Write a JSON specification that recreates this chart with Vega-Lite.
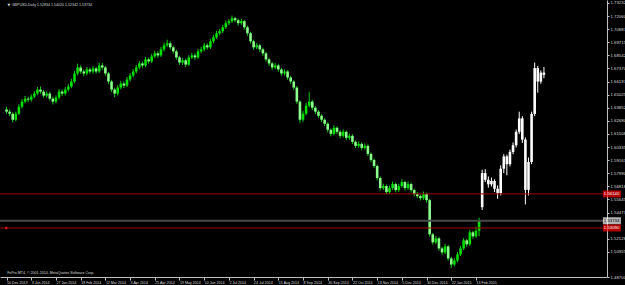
{
 "$schema": "https://vega.github.io/schema/vega-lite/v6.json",
 "width": 607,
 "height": 277,
 "autosize": {"type": "none"},
 "padding": {"left": 0, "top": 0, "right": 18, "bottom": 8},
 "background": "#000000",
 "config": {"view": {"stroke": null}, "axis": {"grid": false, "labelOverlap": false, "labelBound": false, "labelFlush": false}},
 "datasets": {
  "candles": [
   {"i":0,"o":1.6370,"h":1.6392,"l":1.6330,"c":1.6350,"s":"g"},
   {"i":1,"o":1.6350,"h":1.6368,"l":1.6310,"c":1.6332,"s":"g"},
   {"i":2,"o":1.6332,"h":1.6345,"l":1.6255,"c":1.6278,"s":"g"},
   {"i":3,"o":1.6278,"h":1.6350,"l":1.6265,"c":1.6332,"s":"g"},
   {"i":4,"o":1.6332,"h":1.6418,"l":1.6320,"c":1.6395,"s":"g"},
   {"i":5,"o":1.6395,"h":1.6462,"l":1.6380,"c":1.6440,"s":"g"},
   {"i":6,"o":1.6440,"h":1.6490,"l":1.6425,"c":1.6467,"s":"g"},
   {"i":7,"o":1.6467,"h":1.6485,"l":1.6436,"c":1.6458,"s":"g"},
   {"i":8,"o":1.6458,"h":1.6505,"l":1.6440,"c":1.6485,"s":"g"},
   {"i":9,"o":1.6485,"h":1.6535,"l":1.6470,"c":1.6512,"s":"g"},
   {"i":10,"o":1.6512,"h":1.6570,"l":1.6498,"c":1.6548,"s":"g"},
   {"i":11,"o":1.6548,"h":1.6575,"l":1.6510,"c":1.6530,"s":"g"},
   {"i":12,"o":1.6530,"h":1.6545,"l":1.6475,"c":1.6494,"s":"g"},
   {"i":13,"o":1.6494,"h":1.6530,"l":1.6478,"c":1.6512,"s":"g"},
   {"i":14,"o":1.6512,"h":1.6528,"l":1.6450,"c":1.6467,"s":"g"},
   {"i":15,"o":1.6467,"h":1.6485,"l":1.6415,"c":1.6440,"s":"g"},
   {"i":16,"o":1.6440,"h":1.6495,"l":1.6425,"c":1.6476,"s":"g"},
   {"i":17,"o":1.6476,"h":1.6552,"l":1.6460,"c":1.6530,"s":"g"},
   {"i":18,"o":1.6530,"h":1.6548,"l":1.6490,"c":1.6512,"s":"g"},
   {"i":19,"o":1.6512,"h":1.6570,"l":1.6495,"c":1.6548,"s":"g"},
   {"i":20,"o":1.6548,"h":1.6598,"l":1.6530,"c":1.6575,"s":"g"},
   {"i":21,"o":1.6575,"h":1.6645,"l":1.6560,"c":1.6620,"s":"g"},
   {"i":22,"o":1.6620,"h":1.6715,"l":1.6605,"c":1.6692,"s":"g"},
   {"i":23,"o":1.6692,"h":1.6780,"l":1.6675,"c":1.6746,"s":"g"},
   {"i":24,"o":1.6746,"h":1.6765,"l":1.6690,"c":1.6710,"s":"g"},
   {"i":25,"o":1.6710,"h":1.6728,"l":1.6668,"c":1.6692,"s":"g"},
   {"i":26,"o":1.6692,"h":1.6750,"l":1.6675,"c":1.6728,"s":"g"},
   {"i":27,"o":1.6728,"h":1.6745,"l":1.6690,"c":1.6710,"s":"g"},
   {"i":28,"o":1.6710,"h":1.6758,"l":1.6692,"c":1.6737,"s":"g"},
   {"i":29,"o":1.6737,"h":1.6752,"l":1.6690,"c":1.6710,"s":"g"},
   {"i":30,"o":1.6710,"h":1.6790,"l":1.6695,"c":1.6764,"s":"g"},
   {"i":31,"o":1.6764,"h":1.6785,"l":1.6725,"c":1.6746,"s":"g"},
   {"i":32,"o":1.6746,"h":1.6760,"l":1.6672,"c":1.6692,"s":"g"},
   {"i":33,"o":1.6692,"h":1.6705,"l":1.6598,"c":1.6620,"s":"g"},
   {"i":34,"o":1.6620,"h":1.6635,"l":1.6525,"c":1.6548,"s":"g"},
   {"i":35,"o":1.6548,"h":1.6565,"l":1.6480,"c":1.6512,"s":"g"},
   {"i":36,"o":1.6512,"h":1.6588,"l":1.6495,"c":1.6566,"s":"g"},
   {"i":37,"o":1.6566,"h":1.6625,"l":1.6550,"c":1.6602,"s":"g"},
   {"i":38,"o":1.6602,"h":1.6620,"l":1.6562,"c":1.6584,"s":"g"},
   {"i":39,"o":1.6584,"h":1.6660,"l":1.6570,"c":1.6638,"s":"g"},
   {"i":40,"o":1.6638,"h":1.6695,"l":1.6620,"c":1.6674,"s":"g"},
   {"i":41,"o":1.6674,"h":1.6732,"l":1.6658,"c":1.6710,"s":"g"},
   {"i":42,"o":1.6710,"h":1.6768,"l":1.6692,"c":1.6746,"s":"g"},
   {"i":43,"o":1.6746,"h":1.6805,"l":1.6730,"c":1.6782,"s":"g"},
   {"i":44,"o":1.6782,"h":1.6800,"l":1.6742,"c":1.6764,"s":"g"},
   {"i":45,"o":1.6764,"h":1.6840,"l":1.6748,"c":1.6818,"s":"g"},
   {"i":46,"o":1.6818,"h":1.6835,"l":1.6780,"c":1.6800,"s":"g"},
   {"i":47,"o":1.6800,"h":1.6868,"l":1.6785,"c":1.6845,"s":"g"},
   {"i":48,"o":1.6845,"h":1.6895,"l":1.6830,"c":1.6872,"s":"g"},
   {"i":49,"o":1.6872,"h":1.6890,"l":1.6832,"c":1.6854,"s":"g"},
   {"i":50,"o":1.6854,"h":1.6930,"l":1.6840,"c":1.6908,"s":"g"},
   {"i":51,"o":1.6908,"h":1.6968,"l":1.6890,"c":1.6944,"s":"g"},
   {"i":52,"o":1.6944,"h":1.6995,"l":1.6928,"c":1.6962,"s":"g"},
   {"i":53,"o":1.6962,"h":1.6980,"l":1.6905,"c":1.6926,"s":"g"},
   {"i":54,"o":1.6926,"h":1.6940,"l":1.6870,"c":1.6890,"s":"g"},
   {"i":55,"o":1.6890,"h":1.6905,"l":1.6815,"c":1.6836,"s":"g"},
   {"i":56,"o":1.6836,"h":1.6850,"l":1.6770,"c":1.6790,"s":"g"},
   {"i":57,"o":1.6790,"h":1.6830,"l":1.6770,"c":1.6810,"s":"g"},
   {"i":58,"o":1.6810,"h":1.6825,"l":1.6750,"c":1.6772,"s":"g"},
   {"i":59,"o":1.6772,"h":1.6855,"l":1.6760,"c":1.6836,"s":"g"},
   {"i":60,"o":1.6836,"h":1.6876,"l":1.6820,"c":1.6854,"s":"g"},
   {"i":61,"o":1.6854,"h":1.6872,"l":1.6815,"c":1.6836,"s":"g"},
   {"i":62,"o":1.6836,"h":1.6912,"l":1.6822,"c":1.6890,"s":"g"},
   {"i":63,"o":1.6890,"h":1.6930,"l":1.6872,"c":1.6908,"s":"g"},
   {"i":64,"o":1.6908,"h":1.6965,"l":1.6890,"c":1.6944,"s":"g"},
   {"i":65,"o":1.6944,"h":1.6962,"l":1.6905,"c":1.6926,"s":"g"},
   {"i":66,"o":1.6926,"h":1.7002,"l":1.6912,"c":1.6980,"s":"g"},
   {"i":67,"o":1.6980,"h":1.7038,"l":1.6962,"c":1.7016,"s":"g"},
   {"i":68,"o":1.7016,"h":1.7075,"l":1.7000,"c":1.7052,"s":"g"},
   {"i":69,"o":1.7052,"h":1.7092,"l":1.7035,"c":1.7070,"s":"g"},
   {"i":70,"o":1.7070,"h":1.7128,"l":1.7055,"c":1.7106,"s":"g"},
   {"i":71,"o":1.7106,"h":1.7165,"l":1.7090,"c":1.7142,"s":"g"},
   {"i":72,"o":1.7142,"h":1.7180,"l":1.7125,"c":1.7160,"s":"g"},
   {"i":73,"o":1.7160,"h":1.7210,"l":1.7145,"c":1.7187,"s":"g"},
   {"i":74,"o":1.7187,"h":1.7200,"l":1.7150,"c":1.7169,"s":"g"},
   {"i":75,"o":1.7169,"h":1.7185,"l":1.7120,"c":1.7142,"s":"g"},
   {"i":76,"o":1.7142,"h":1.7182,"l":1.7128,"c":1.7160,"s":"g"},
   {"i":77,"o":1.7160,"h":1.7172,"l":1.7085,"c":1.7106,"s":"g"},
   {"i":78,"o":1.7106,"h":1.7120,"l":1.7030,"c":1.7052,"s":"g"},
   {"i":79,"o":1.7052,"h":1.7065,"l":1.6960,"c":1.6980,"s":"g"},
   {"i":80,"o":1.6980,"h":1.6995,"l":1.6905,"c":1.6926,"s":"g"},
   {"i":81,"o":1.6926,"h":1.6965,"l":1.6910,"c":1.6944,"s":"g"},
   {"i":82,"o":1.6944,"h":1.6958,"l":1.6885,"c":1.6908,"s":"g"},
   {"i":83,"o":1.6908,"h":1.6922,"l":1.6850,"c":1.6872,"s":"g"},
   {"i":84,"o":1.6872,"h":1.6885,"l":1.6798,"c":1.6818,"s":"g"},
   {"i":85,"o":1.6818,"h":1.6832,"l":1.6760,"c":1.6782,"s":"g"},
   {"i":86,"o":1.6782,"h":1.6796,"l":1.6725,"c":1.6746,"s":"g"},
   {"i":87,"o":1.6746,"h":1.6785,"l":1.6730,"c":1.6764,"s":"g"},
   {"i":88,"o":1.6764,"h":1.6778,"l":1.6708,"c":1.6728,"s":"g"},
   {"i":89,"o":1.6728,"h":1.6742,"l":1.6672,"c":1.6692,"s":"g"},
   {"i":90,"o":1.6692,"h":1.6730,"l":1.6675,"c":1.6710,"s":"g"},
   {"i":91,"o":1.6710,"h":1.6722,"l":1.6635,"c":1.6656,"s":"g"},
   {"i":92,"o":1.6656,"h":1.6670,"l":1.6600,"c":1.6620,"s":"g"},
   {"i":93,"o":1.6620,"h":1.6632,"l":1.6545,"c":1.6566,"s":"g"},
   {"i":94,"o":1.6566,"h":1.6580,"l":1.6420,"c":1.6440,"s":"g"},
   {"i":95,"o":1.6440,"h":1.6452,"l":1.6250,"c":1.6278,"s":"g"},
   {"i":96,"o":1.6278,"h":1.6355,"l":1.6260,"c":1.6332,"s":"g"},
   {"i":97,"o":1.6332,"h":1.6430,"l":1.6318,"c":1.6404,"s":"g"},
   {"i":98,"o":1.6404,"h":1.6525,"l":1.6390,"c":1.6440,"s":"g"},
   {"i":99,"o":1.6440,"h":1.6455,"l":1.6365,"c":1.6386,"s":"g"},
   {"i":100,"o":1.6386,"h":1.6400,"l":1.6330,"c":1.6350,"s":"g"},
   {"i":101,"o":1.6350,"h":1.6365,"l":1.6295,"c":1.6314,"s":"g"},
   {"i":102,"o":1.6314,"h":1.6328,"l":1.6258,"c":1.6278,"s":"g"},
   {"i":103,"o":1.6278,"h":1.6292,"l":1.6222,"c":1.6242,"s":"g"},
   {"i":104,"o":1.6242,"h":1.6255,"l":1.6165,"c":1.6188,"s":"g"},
   {"i":105,"o":1.6188,"h":1.6200,"l":1.6130,"c":1.6152,"s":"g"},
   {"i":106,"o":1.6152,"h":1.6228,"l":1.6138,"c":1.6206,"s":"g"},
   {"i":107,"o":1.6206,"h":1.6220,"l":1.6150,"c":1.6170,"s":"g"},
   {"i":108,"o":1.6170,"h":1.6185,"l":1.6112,"c":1.6134,"s":"g"},
   {"i":109,"o":1.6134,"h":1.6192,"l":1.6118,"c":1.6170,"s":"g"},
   {"i":110,"o":1.6170,"h":1.6182,"l":1.6095,"c":1.6116,"s":"g"},
   {"i":111,"o":1.6116,"h":1.6155,"l":1.6098,"c":1.6134,"s":"g"},
   {"i":112,"o":1.6134,"h":1.6148,"l":1.6060,"c":1.6080,"s":"g"},
   {"i":113,"o":1.6080,"h":1.6095,"l":1.6025,"c":1.6044,"s":"g"},
   {"i":114,"o":1.6044,"h":1.6085,"l":1.6028,"c":1.6062,"s":"g"},
   {"i":115,"o":1.6062,"h":1.6075,"l":1.6005,"c":1.6026,"s":"g"},
   {"i":116,"o":1.6026,"h":1.6065,"l":1.6010,"c":1.6044,"s":"g"},
   {"i":117,"o":1.6044,"h":1.6058,"l":1.5952,"c":1.5972,"s":"g"},
   {"i":118,"o":1.5972,"h":1.5985,"l":1.5898,"c":1.5918,"s":"g"},
   {"i":119,"o":1.5918,"h":1.5932,"l":1.5845,"c":1.5864,"s":"g"},
   {"i":120,"o":1.5864,"h":1.5878,"l":1.5735,"c":1.5756,"s":"g"},
   {"i":121,"o":1.5756,"h":1.5770,"l":1.5645,"c":1.5666,"s":"g"},
   {"i":122,"o":1.5666,"h":1.5705,"l":1.5650,"c":1.5684,"s":"g"},
   {"i":123,"o":1.5684,"h":1.5698,"l":1.5610,"c":1.5630,"s":"g"},
   {"i":124,"o":1.5630,"h":1.5688,"l":1.5615,"c":1.5666,"s":"g"},
   {"i":125,"o":1.5666,"h":1.5725,"l":1.5650,"c":1.5702,"s":"g"},
   {"i":126,"o":1.5702,"h":1.5715,"l":1.5628,"c":1.5648,"s":"g"},
   {"i":127,"o":1.5648,"h":1.5705,"l":1.5632,"c":1.5684,"s":"g"},
   {"i":128,"o":1.5684,"h":1.5745,"l":1.5670,"c":1.5720,"s":"g"},
   {"i":129,"o":1.5720,"h":1.5732,"l":1.5645,"c":1.5666,"s":"g"},
   {"i":130,"o":1.5666,"h":1.5725,"l":1.5650,"c":1.5702,"s":"g"},
   {"i":131,"o":1.5702,"h":1.5715,"l":1.5628,"c":1.5648,"s":"g"},
   {"i":132,"o":1.5648,"h":1.5662,"l":1.5592,"c":1.5612,"s":"g"},
   {"i":133,"o":1.5612,"h":1.5630,"l":1.5575,"c":1.5594,"s":"g"},
   {"i":134,"o":1.5594,"h":1.5610,"l":1.5555,"c":1.5576,"s":"g"},
   {"i":135,"o":1.5576,"h":1.5635,"l":1.5560,"c":1.5612,"s":"g"},
   {"i":136,"o":1.5612,"h":1.5625,"l":1.5535,"c":1.5558,"s":"g"},
   {"i":137,"o":1.5558,"h":1.5570,"l":1.5232,"c":1.5252,"s":"g"},
   {"i":138,"o":1.5252,"h":1.5265,"l":1.5160,"c":1.5180,"s":"g"},
   {"i":139,"o":1.5180,"h":1.5238,"l":1.5165,"c":1.5216,"s":"g"},
   {"i":140,"o":1.5216,"h":1.5230,"l":1.5105,"c":1.5126,"s":"g"},
   {"i":141,"o":1.5126,"h":1.5140,"l":1.5068,"c":1.5090,"s":"g"},
   {"i":142,"o":1.5090,"h":1.5165,"l":1.5075,"c":1.5144,"s":"g"},
   {"i":143,"o":1.5144,"h":1.5158,"l":1.5015,"c":1.5036,"s":"g"},
   {"i":144,"o":1.5036,"h":1.5050,"l":1.4952,"c":1.4982,"s":"g"},
   {"i":145,"o":1.4982,"h":1.5040,"l":1.4965,"c":1.5018,"s":"g"},
   {"i":146,"o":1.5018,"h":1.5095,"l":1.5002,"c":1.5072,"s":"g"},
   {"i":147,"o":1.5072,"h":1.5148,"l":1.5058,"c":1.5126,"s":"g"},
   {"i":148,"o":1.5126,"h":1.5220,"l":1.5110,"c":1.5198,"s":"g"},
   {"i":149,"o":1.5198,"h":1.5212,"l":1.5140,"c":1.5162,"s":"g"},
   {"i":150,"o":1.5162,"h":1.5292,"l":1.5148,"c":1.5270,"s":"g"},
   {"i":151,"o":1.5270,"h":1.5284,"l":1.5212,"c":1.5234,"s":"g"},
   {"i":152,"o":1.5234,"h":1.5320,"l":1.5220,"c":1.5283,"s":"g"},
   {"i":153,"o":1.52834,"h":1.54020,"l":1.52342,"c":1.53734,"s":"g"},
   {"i":154,"o":1.5495,"h":1.5830,"l":1.5470,"c":1.5800,"s":"w"},
   {"i":155,"o":1.5800,"h":1.5835,"l":1.5720,"c":1.5740,"s":"w"},
   {"i":156,"o":1.5740,"h":1.5770,"l":1.5670,"c":1.5700,"s":"w"},
   {"i":157,"o":1.5700,"h":1.5760,"l":1.5680,"c":1.5730,"s":"w"},
   {"i":158,"o":1.5730,"h":1.5745,"l":1.5630,"c":1.5660,"s":"w"},
   {"i":159,"o":1.5660,"h":1.5690,"l":1.5570,"c":1.5620,"s":"w"},
   {"i":160,"o":1.5620,"h":1.5870,"l":1.5600,"c":1.5840,"s":"w"},
   {"i":161,"o":1.5840,"h":1.5970,"l":1.5800,"c":1.5950,"s":"w"},
   {"i":162,"o":1.5950,"h":1.5965,"l":1.5780,"c":1.5880,"s":"w"},
   {"i":163,"o":1.5880,"h":1.6010,"l":1.5860,"c":1.5990,"s":"w"},
   {"i":164,"o":1.5990,"h":1.6075,"l":1.5970,"c":1.6050,"s":"w"},
   {"i":165,"o":1.6050,"h":1.6190,"l":1.6030,"c":1.6170,"s":"w"},
   {"i":166,"o":1.6170,"h":1.6350,"l":1.6150,"c":1.6290,"s":"w"},
   {"i":167,"o":1.6290,"h":1.6310,"l":1.6070,"c":1.6100,"s":"w"},
   {"i":168,"o":1.6100,"h":1.6120,"l":1.5520,"c":1.5650,"s":"w"},
   {"i":169,"o":1.5650,"h":1.5940,"l":1.5600,"c":1.5900,"s":"w"},
   {"i":170,"o":1.5900,"h":1.6350,"l":1.5880,"c":1.6330,"s":"w"},
   {"i":171,"o":1.6330,"h":1.6790,"l":1.6310,"c":1.6740,"s":"w"},
   {"i":172,"o":1.6740,"h":1.6760,"l":1.6520,"c":1.6620,"s":"w"},
   {"i":173,"o":1.6620,"h":1.6720,"l":1.6600,"c":1.6700,"s":"w"},
   {"i":174,"o":1.6700,"h":1.6750,"l":1.6650,"c":1.6680,"s":"w"}
  ],
  "levels": [
   {"p":1.5614,"t":"1.56140","k":"line"},
   {"p":1.53734,"t":"1.53734","k":"bid"},
   {"p":1.5309,"t":"1.53090","k":"line"}
  ]
 },
 "layer": [
  {
   "data": {"name": "candles"},
   "mark": {"type": "rule", "strokeWidth": 1},
   "encoding": {
    "x": {"field": "i", "type": "quantitative",
     "scale": {"domain": [-0.5, 192.8], "nice": false, "zero": false},
     "axis": {"title": null, "orient": "bottom", "tickCount": 100,
      "values": [0,8,16,24,32,40,48,56,64,72,80,88,96,104,112,120,128,136,144,152],
      "labelExpr": "['10 Dec 2013','3 Jan 2014','27 Jan 2014','18 Feb 2014','12 Mar 2014','3 Apr 2014','25 Apr 2014','19 May 2014','10 Jun 2014','2 Jul 2014','24 Jul 2014','15 Aug 2014','8 Sep 2014','30 Sep 2014','22 Oct 2014','13 Nov 2014','5 Dec 2014','30 Dec 2014','22 Jan 2015','13 Feb 2015'][round(datum.value/8)]",
      "labelAlign": "left", "labelBaseline": "top", "labelPadding": 0, "labelOverlap": false, "labelBound": false, "labelFlush": false,
      "labelFont": "Liberation Sans", "labelFontSize": 3.6, "labelColor": "#d8d8d8",
      "tickSize": 3, "tickColor": "#c0c0c0", "domainColor": "#c0c0c0", "domainWidth": 1}},
    "y": {"field": "l", "type": "quantitative",
     "scale": {"domain": [1.487, 1.735], "nice": false, "zero": false},
     "axis": {"title": null, "orient": "right", "tickCount": 100,
      "values": [1.73232,1.7206,1.70887,1.69715,1.68542,1.6737,1.66197,1.65025,1.63852,1.6268,1.61508,1.60335,1.59163,1.5799,1.56818,1.55645,1.54473,1.52128,1.50955,1.487],
      "format": ".5f", "labelPadding": 1, "labelOverlap": false, "labelBound": false, "labelFlush": false,
      "labelFont": "Liberation Sans", "labelFontSize": 4.3, "labelColor": "#d8d8d8",
      "tickSize": 2, "tickColor": "#c0c0c0", "domainColor": "#c0c0c0", "domainWidth": 1}},
    "y2": {"field": "h"},
    "color": {"condition": {"test": "datum.s=='w'", "value": "#ffffff"}, "value": "#10d010"}
   }
  },
  {
   "data": {"name": "candles"},
   "mark": {"type": "bar", "size": 2.6},
   "encoding": {
    "x": {"field": "i", "type": "quantitative"},
    "y": {"field": "o", "type": "quantitative"},
    "y2": {"field": "c"},
    "color": {"condition": [{"test": "datum.s=='w'", "value": "#ffffff"}, {"test": "datum.c<datum.o", "value": "#8cff8c"}], "value": "#00e000"}
   }
  },
  {
   "data": {"name": "levels"},
   "mark": {"type": "rule"},
   "encoding": {
    "y": {"field": "p", "type": "quantitative"},
    "color": {"condition": {"test": "datum.k=='bid'", "value": "#4a4a4a"}, "value": "#a00000"},
    "strokeWidth": {"condition": {"test": "datum.k=='bid'", "value": 2}, "value": 1}
   }
  },
  {
   "data": {"name": "levels"},
   "mark": {"type": "tick", "orient": "horizontal", "size": 18, "thickness": 7},
   "encoding": {
    "x": {"datum": 196},
    "y": {"field": "p", "type": "quantitative"},
    "color": {"condition": {"test": "datum.k=='bid'", "value": "#ffffff"}, "value": "#ff0000"}
   }
  },
  {
   "data": {"name": "levels"},
   "mark": {"type": "text", "align": "left", "baseline": "middle", "font": "Liberation Sans", "fontSize": 4.3},
   "encoding": {
    "x": {"datum": 193.4},
    "y": {"field": "p", "type": "quantitative"},
    "text": {"field": "t"},
    "color": {"condition": {"test": "datum.k=='bid'", "value": "#000000"}, "value": "#ffffff"}
   }
  },
  {
   "data": {"values": [{}]},
   "mark": {"type": "point", "shape": "square", "filled": true, "size": 6, "color": "#ff2020"},
   "encoding": {"x": {"datum": -0.1}, "y": {"datum": 1.5309}}
  },
  {
   "data": {"values": [{}]},
   "mark": {"type": "text", "align": "left", "baseline": "middle", "font": "DejaVu Sans", "fontSize": 3.5, "color": "#d8d8d8"},
   "encoding": {"x": {"datum": 0.3}, "y": {"datum": 1.7305}, "text": {"value": "▼"}}
  },
  {
   "data": {"values": [{}]},
   "mark": {"type": "text", "align": "left", "baseline": "middle", "font": "Liberation Sans", "fontSize": 3.6, "color": "#d8d8d8"},
   "encoding": {"x": {"datum": 1.7}, "y": {"datum": 1.7305}, "text": {"value": "GBPUSD,Daily  1.52834 1.54020 1.52342 1.53734"}}
  },
  {
   "data": {"values": [{}]},
   "mark": {"type": "text", "align": "left", "baseline": "middle", "font": "Liberation Sans", "fontSize": 3.6, "color": "#d8d8d8"},
   "encoding": {"x": {"datum": 0.2}, "y": {"datum": 1.4907}, "text": {"value": "FxPro MT4, © 2001-2014, MetaQuotes Software Corp."}}
  }
 ]
}
